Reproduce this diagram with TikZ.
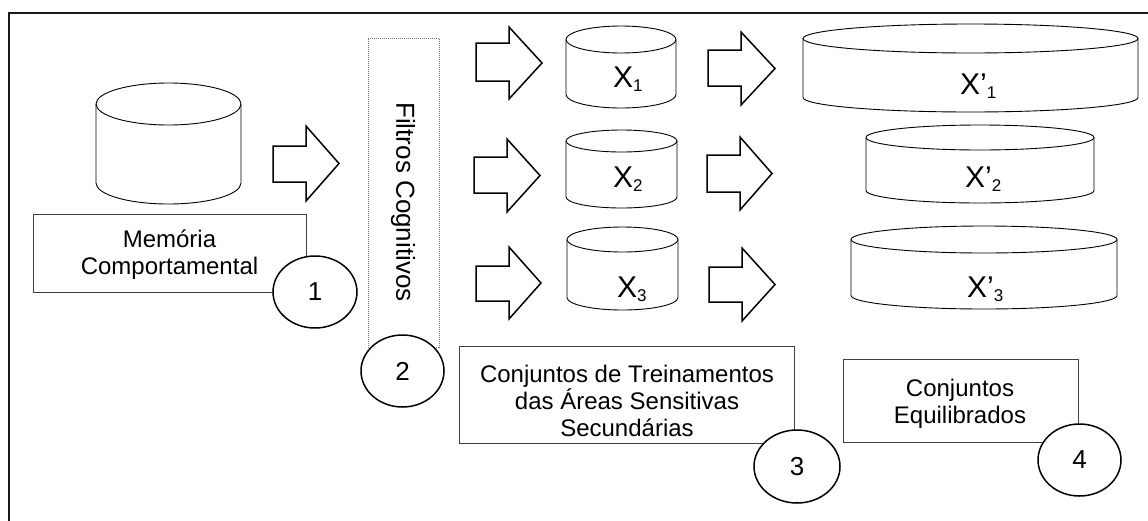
\documentclass[tikz,border=0pt]{standalone}
\usepackage{fontspec}
\setmainfont{Liberation Sans}
\usetikzlibrary{shapes.geometric}
\newcommand\lsub[1]{\raisebox{-4pt}{\fontsize{17}{17}\selectfont #1}}
% x0 xt xtip htop stop sbot hbot
\newcommand\blockarrow[7]{%
  \draw[barrow] (#1,#5) -- (#2,#5) -- (#2,#4) -- (#3,{(#4+#7)/2}) -- (#2,#7) -- (#2,#6) -- (#1,#6) -- cycle;}
% x1 x2 ytop ybot ry
\newcommand\cylshape[5]{%
  \draw[cylline] (#1,#3) -- (#1,#4) arc[start angle=180,end angle=360,x radius={((#2)-(#1))/2*1pt},y radius=#5pt] -- (#2,#3);
  \draw[cylline] ({((#1)+(#2))/2},#3) ellipse[x radius={((#2)-(#1))/2*1pt},y radius=#5pt];}
\tikzset{
  barrow/.style={draw=black, line width=1.5pt, line join=miter, fill=white},
  cylline/.style={draw=black, line width=0.9pt},
  box/.style={draw=black!75, line width=1pt, rectangle, inner sep=0pt},
  fbox/.style={draw=black!55, line width=0.8pt, dash pattern=on 1pt off 1pt, rectangle, inner sep=0pt},
  numc/.style={draw=black, fill=white, line width=1.5pt, ellipse, inner sep=0pt, font=\fontsize{26}{26}\selectfont},
  lbl/.style={align=center, inner sep=0pt, font=\fontsize{24}{27}\selectfont},
  xl/.style={anchor=base west, inner sep=0pt, font=\fontsize{30}{30}\selectfont},
  frame/.style={draw=black!90, line width=2pt}
}
\begin{document}
\begin{tikzpicture}[x=1pt,y=-1pt]
\useasboundingbox (0,0) rectangle (1148,520);
% outer frame (only top and left edges visible)
\coordinate (fbl) at (9,521);
\coordinate (ftl) at (9,12.5);
\coordinate (ftr) at (1149,12.5);
\draw[frame] (fbl) -- (ftl) -- (ftr);

% cylinders
\cylshape{96}{241}{104}{183}{21}
\cylshape{566}{676}{39.5}{94.5}{13.5}
\cylshape{566}{677}{141}{197}{11}
\cylshape{567}{678}{239.5}{297.5}{12.5}
\cylshape{803}{1138}{38.5}{97.5}{14.5}
\cylshape{866}{1094}{137.5}{190.5}{12.5}
\cylshape{851}{1117}{239.5}{295.5}{13.5}

% labels in cylinders
\node[xl] (x1) at (613,87) {X\lsub{1}};
\node[xl] (x2) at (613,187) {X\lsub{2}};
\node[xl] (x3) at (617,297) {X\lsub{3}};
\node[xl] (xp1) at (960,94) {X’\lsub{1}};
\node[xl] (xp2) at (965,187) {X’\lsub{2}};
\node[xl] (xp3) at (967,297) {X’\lsub{3}};

% block arrows
\blockarrow{273}{306}{339}{126}{146}{182}{201}
\blockarrow{476}{509}{542}{27}{43}{81}{99}
\blockarrow{474}{507}{540}{139}{157}{193}{212}
\blockarrow{476}{509}{541}{247}{266}{301}{319}
\blockarrow{708}{741}{775}{32}{50}{86}{105}
\blockarrow{707}{740}{772}{137}{155}{192}{210}
\blockarrow{709}{742}{775}{248}{267}{302}{321}

% boxes
\node[box, minimum width=273pt, minimum height=78pt] (b1) at (169.5,253) {};
\node[lbl] (t1) at (169.5,255) {Memória\\Comportamental};
\node[fbox, minimum width=71pt, minimum height=309pt] (b2) at (403.5,192.5) {};
\node[lbl, rotate=-90, font=\fontsize{26}{26}\selectfont] (t2) at (403,202) {Filtros Cognitivos};
\node[box, minimum width=335pt, minimum height=97pt] (b3) at (626.5,394.5) {};
\node[lbl] (t3) at (627,401) {Conjuntos de Treinamentos\\das Áreas Sensitivas\\Secundárias};
\node[box, minimum width=235pt, minimum height=83pt] (b4) at (960.5,400.5) {};
\node[lbl] (t4) at (960,404) {Conjuntos\\Equilibrados};

% numbered circles
\node[numc, minimum width=84pt, minimum height=72pt] (c1) at (315,292) {1};
\node[numc, minimum width=83pt, minimum height=72pt] (c2) at (402.5,371) {2};
\node[numc, minimum width=86pt, minimum height=73pt] (c3) at (797,466.5) {3};
\node[numc, minimum width=83pt, minimum height=72pt] (c4) at (1079.5,460) {4};
\end{tikzpicture}
\end{document}
